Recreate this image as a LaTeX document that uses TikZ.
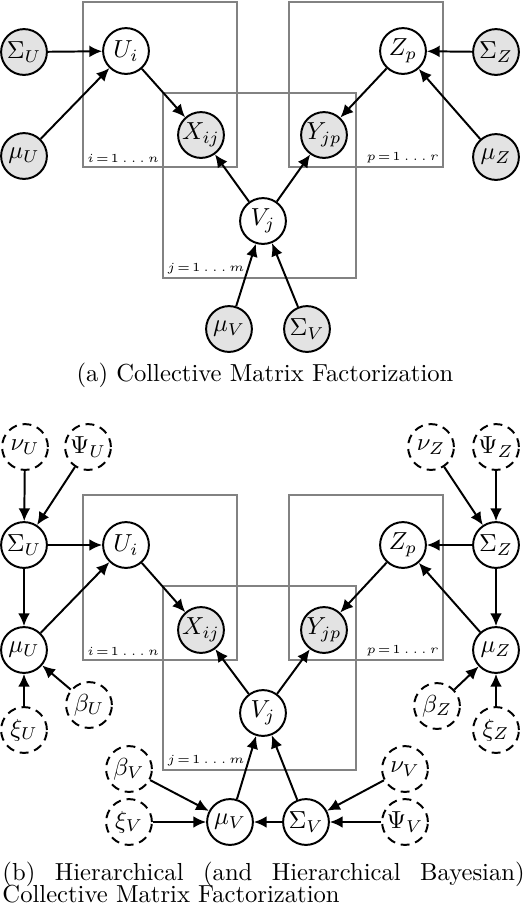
\documentclass[tikz,border=0pt]{standalone}
\usetikzlibrary{arrows.meta}
\begin{document}
\begin{tikzpicture}[x=0.406pt,y=-0.406pt,
  rv/.style={circle,draw,line width=0.8pt,minimum size=18.6pt,inner sep=0pt,fill=white},
  obs/.style={rv,fill=gray!22},
  hyper/.style={rv,dash pattern=on 3.6pt off 2.4pt},
  platebox/.style={draw={rgb,255:red,130;green,130;blue,130},line width=0.8pt},
  platelabel/.style={inner sep=1.6pt,font=\fontsize{5.5}{6.5}\selectfont},
  edge/.style={-{Latex[length=5.2pt,width=4.8pt]},line width=0.8pt},
  captext/.style={inner sep=0pt,font=\normalsize}]
\useasboundingbox (0,0) rectangle (526,908);
% ---------- (a) ----------
\draw[platebox] (83,2) rectangle (237,167);
\draw[platebox] (163,93) rectangle (356,278);
\draw[platebox] (289,2) rectangle (443,167);
\node[platelabel,anchor=south west] (aLi) at (83,167) {$i\!=\!1\ldots n$};
\node[platelabel,anchor=south west] (aLj) at (163,278) {$j\!=\!1\ldots m$};
\node[platelabel,anchor=south east] (aLp) at (443,167) {$p\!=\!1\ldots r$};
\node[obs] (aSU) at (24,52) {$\Sigma_U$};
\node[rv] (aUi) at (126,51) {$U_i$};
\node[obs] (aMU) at (24,156) {$\mu_U$};
\node[obs] (aX) at (201,135) {$X_{ij}$};
\node[obs] (aY) at (324,135) {$Y_{jp}$};
\node[rv] (aZ) at (403,51) {$Z_p$};
\node[obs] (aSZ) at (496,52) {$\Sigma_Z$};
\node[obs] (aMZ) at (496,157) {$\mu_Z$};
\node[rv] (aV) at (263,221) {$V_j$};
\node[obs] (aMV) at (229,329) {$\mu_V$};
\node[obs] (aSV) at (307,329) {$\Sigma_V$};
\draw[edge] (aSU) -- (aUi);
\draw[edge] (aMU) -- (aUi);
\draw[edge] (aUi) -- (aX);
\draw[edge] (aV) -- (aX);
\draw[edge] (aV) -- (aY);
\draw[edge] (aZ) -- (aY);
\draw[edge] (aSZ) -- (aZ);
\draw[edge] (aMZ) -- (aZ);
\draw[edge] (aMV) -- (aV);
\draw[edge] (aSV) -- (aV);
\node[captext,anchor=base] (capa) at (265,381) {(a) Collective Matrix Factorization};
% ---------- (b) ----------
\draw[platebox] (83,495) rectangle (237,660);
\draw[platebox] (163,586) rectangle (356,770);
\draw[platebox] (289,495) rectangle (443,660);
\node[platelabel,anchor=south west] (bLi) at (83,660) {$i\!=\!1\ldots n$};
\node[platelabel,anchor=south west] (bLj) at (163,770) {$j\!=\!1\ldots m$};
\node[platelabel,anchor=south east] (bLp) at (443,660) {$p\!=\!1\ldots r$};
\node[hyper] (bNU) at (25,447) {$\nu_U$};
\node[hyper] (bPU) at (88,447) {$\Psi_U$};
\node[rv] (bSU) at (24,545) {$\Sigma_U$};
\node[rv] (bUi) at (126,545) {$U_i$};
\node[rv] (bMU) at (24,650) {$\mu_U$};
\node[hyper] (bBU) at (89,705) {$\beta_U$};
\node[hyper] (bXiU) at (24,730) {$\xi_U$};
\node[obs] (bX) at (201,630) {$X_{ij}$};
\node[obs] (bY) at (324,630) {$Y_{jp}$};
\node[rv] (bV) at (263,713) {$V_j$};
\node[hyper] (bBV) at (129,769) {$\beta_V$};
\node[hyper] (bXiV) at (129,822) {$\xi_V$};
\node[rv] (bMV) at (230,822) {$\mu_V$};
\node[rv] (bSV) at (306,822) {$\Sigma_V$};
\node[hyper] (bNV) at (405,769) {$\nu_V$};
\node[hyper] (bPV) at (405,822) {$\Psi_V$};
\node[rv] (bZ) at (403,545) {$Z_p$};
\node[rv] (bSZ) at (496,545) {$\Sigma_Z$};
\node[hyper] (bNZ) at (431,447) {$\nu_Z$};
\node[hyper] (bPZ) at (496,447) {$\Psi_Z$};
\node[rv] (bMZ) at (496,650) {$\mu_Z$};
\node[hyper] (bBZ) at (437,706) {$\beta_Z$};
\node[hyper] (bXiZ) at (496,730) {$\xi_Z$};
\draw[edge] (bNU) -- (bSU);
\draw[edge] (bPU) -- (bSU);
\draw[edge] (bSU) -- (bUi);
\draw[edge] (bSU) -- (bMU);
\draw[edge] (bMU) -- (bUi);
\draw[edge] (bUi) -- (bX);
\draw[edge] (bXiU) -- (bMU);
\draw[edge] (bBU) -- (bMU);
\draw[edge] (bV) -- (bX);
\draw[edge] (bV) -- (bY);
\draw[edge] (bMV) -- (bV);
\draw[edge] (bSV) -- (bV);
\draw[edge] (bBV) -- (bMV);
\draw[edge] (bXiV) -- (bMV);
\draw[edge] (bSV) -- (bMV);
\draw[edge] (bNV) -- (bSV);
\draw[edge] (bPV) -- (bSV);
\draw[edge] (bZ) -- (bY);
\draw[edge] (bSZ) -- (bZ);
\draw[edge] (bMZ) -- (bZ);
\draw[edge] (bSZ) -- (bMZ);
\draw[edge] (bNZ) -- (bSZ);
\draw[edge] (bPZ) -- (bSZ);
\draw[edge] (bBZ) -- (bMZ);
\draw[edge] (bXiZ) -- (bMZ);
\node[captext,anchor=base west] (capb1) at (2,880)
  {\makebox[212pt][s]{(b) Hierarchical (and Hierarchical Bayesian)}};
\node[captext,anchor=base west] (capb2) at (2,902) {Collective Matrix Factorization};
\end{tikzpicture}
\end{document}
